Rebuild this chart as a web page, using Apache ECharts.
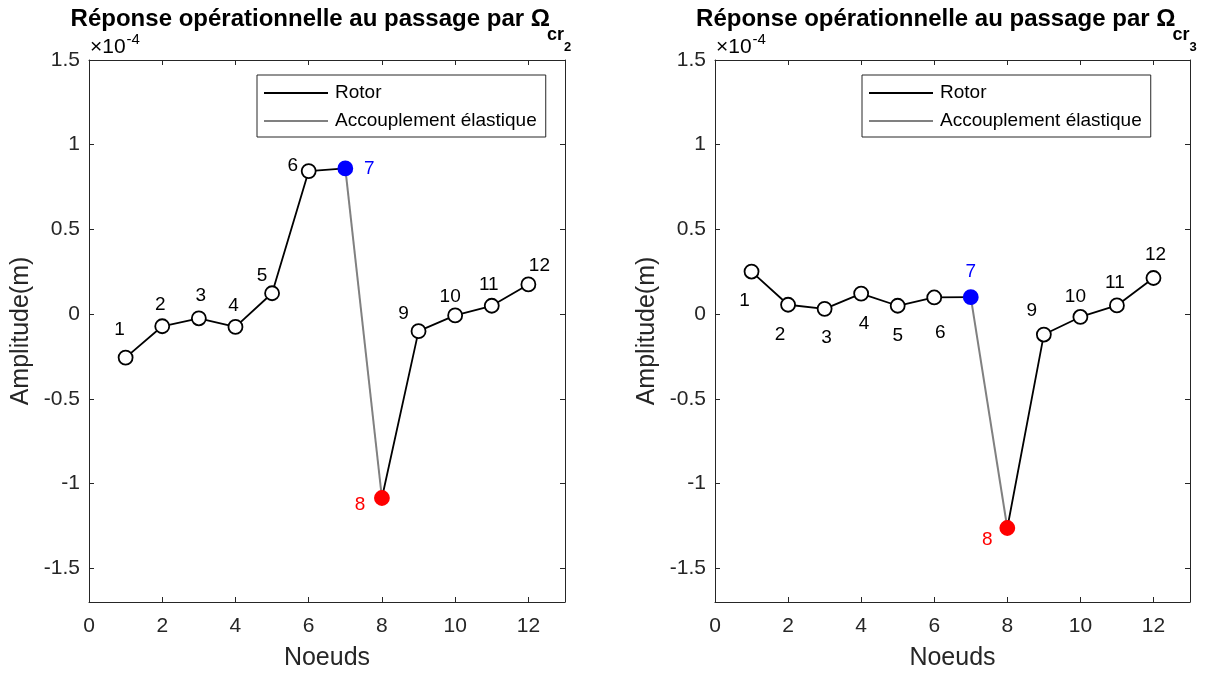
<!DOCTYPE html>
<html>
<head>
<meta charset="utf-8">
<script src="https://cdn.jsdelivr.net/npm/echarts@6/dist/echarts.min.js"></script>
<style>
html,body{margin:0;padding:0;background:#fff;}
#chart{width:1211px;height:676px;}
</style>
</head>
<body>
<div id="chart"></div>
<script>
// ---- data (amplitudes in units of 1e-4 m) ----
var nodes = [1, 2, 3, 4, 5, 6, 7, 8, 9, 10, 11, 12];
var ampCr2 = [-0.257, -0.072, -0.025, -0.076, 0.123, 0.844, 0.86, -1.086, -0.101, -0.008, 0.049, 0.175];
var ampCr3 = [0.251, 0.055, 0.031, 0.121, 0.049, 0.098, 0.10, -1.263, -0.121, -0.017, 0.051, 0.213];
var nodeLabels = ['1', '2', '3', '4', '5', '6', '7', '8', '9', '10', '11', '12'];
var couplingNodes = [7, 8];
var seriesNames = ['Rotor', 'Accouplement élastique'];
var titleMain = 'Réponse opérationnelle au passage par Ω';
var titleSub = 'cr';
var titleSubSubs = ['2', '3'];
var xTitle = 'Noeuds';
var yTitle = 'Amplitude(m)';

// ---- styling (positions of node labels relative to their markers, px) ----
var labelOffsets = [
  [[-6,-28],[-2,-21],[2,-23],[-2,-21],[-10,-17],[-16,-5],[24,0],[-22,7],[-15,-17],[-5,-19],[-3,-21],[11,-19]],
  [[-7,29],[-8,30],[2,29],[3,30],[0,30],[6,35],[0,-25],[-20,12],[-12,-24],[-5,-20],[-2,-23],[2,-23]]
];
var FONT = '"Liberation Sans", Arial, Helvetica, sans-serif';
var AX = '#262626';
var grids = [
  {left: 89, top: 60, width: 476, height: 546},
  {left: 715, top: 60, width: 475, height: 546}
];

var chart = echarts.init(document.getElementById('chart'), null, {renderer: 'canvas'});

var ctx = document.createElement('canvas').getContext('2d');
function tw(text, font) { ctx.font = font; return ctx.measureText(text).width; }

var xAxes = [], yAxes = [], series = [], legends = [], graphics = [];

function pointItem(chartIdx, i, amps) {
  var n = nodes[i];
  var item = {
    value: [n, amps[i]],
    label: {
      show: true, position: 'inside',
      offset: labelOffsets[chartIdx][i],
      formatter: nodeLabels[i],
      fontSize: 19, fontFamily: FONT, color: '#000'
    }
  };
  if (n === couplingNodes[0]) {
    item.itemStyle = {color: '#0000ff', borderColor: '#0000ff'};
    item.label.color = '#0000ff';
  } else if (n === couplingNodes[1]) {
    item.itemStyle = {color: '#ff0000', borderColor: '#ff0000'};
    item.label.color = '#ff0000';
  }
  return item;
}

[ampCr2, ampCr3].forEach(function (amps, c) {
  var g = grids[c];
  var common = {
    gridIndex: c,
    axisLine: {show: true, onZero: false, lineStyle: {color: AX, width: 1}},
    axisTick: {show: true, inside: true, length: 5, lineStyle: {color: AX, width: 1}},
    splitLine: {show: false}
  };
  xAxes.push(Object.assign({}, common, {
    type: 'value', position: 'bottom', min: 0, max: 13, interval: 2,
    axisLabel: {show: true, showMaxLabel: false, fontSize: 21, fontFamily: FONT, color: AX, margin: 14},
    name: xTitle, nameLocation: 'middle', nameGap: 44,
    nameTextStyle: {fontSize: 25, fontFamily: FONT, color: AX}
  }));
  xAxes.push(Object.assign({}, common, {
    type: 'value', position: 'top', min: 0, max: 13, interval: 2,
    axisLabel: {show: false}
  }));
  yAxes.push(Object.assign({}, common, {
    type: 'value', position: 'left', min: -1.7, max: 1.5,
    splitNumber: 6, minInterval: 0.5, maxInterval: 0.5,
    axisLabel: {show: true, showMinLabel: false, fontSize: 21, fontFamily: FONT, color: AX, margin: 9},
    name: yTitle, nameLocation: 'middle', nameGap: 55,
    nameTextStyle: {fontSize: 25, fontFamily: FONT, color: AX}
  }));
  yAxes.push(Object.assign({}, common, {
    type: 'value', position: 'right', min: -1.7, max: 1.5,
    splitNumber: 6, minInterval: 0.5, maxInterval: 0.5,
    axisLabel: {show: false}
  }));

  var xi = c * 2, yi = c * 2;
  var i7 = nodes.indexOf(couplingNodes[0]);
  var i8 = nodes.indexOf(couplingNodes[1]);

  // coupling (gray) first so markers lie on top
  series.push({
    type: 'line', name: seriesNames[1], xAxisIndex: xi, yAxisIndex: yi,
    data: [[nodes[i7], amps[i7]], [nodes[i8], amps[i8]]],
    symbol: 'none', lineStyle: {color: '#808080', width: 2},
    itemStyle: {color: '#808080'}, z: 2, animation: false, silent: true
  });
  var partA = [], partB = [];
  for (var i = 0; i < nodes.length; i++) {
    if (i <= i7) partA.push(pointItem(c, i, amps));
    if (i >= i8) partB.push(pointItem(c, i, amps));
  }
  [partA, partB].forEach(function (d) {
    series.push({
      type: 'line', name: seriesNames[0], xAxisIndex: xi, yAxisIndex: yi,
      data: d, symbol: 'circle', symbolSize: 14, showAllSymbol: true,
      lineStyle: {color: '#000', width: 1.8},
      itemStyle: {color: '#fff', borderColor: '#000', borderWidth: 1.8},
      z: 3, animation: false, silent: true
    });
  });

  legends.push({
    left: c === 0 ? 257 : 862, top: 75,
    orient: 'vertical', selectedMode: false,
    backgroundColor: '#fff', borderColor: AX, borderWidth: 1, borderRadius: 0,
    padding: [8, 9, 6, 7], itemGap: 8,
    itemWidth: 64, itemHeight: 2, icon: 'rect',
    textStyle: {fontSize: 19, fontFamily: FONT, color: '#000', lineHeight: 20, padding: [0, 0, 0, 2]},
    data: [
      {name: seriesNames[0], icon: 'rect', itemStyle: {color: '#000', borderWidth: 0}},
      {name: seriesNames[1], icon: 'rect', itemStyle: {color: '#808080', borderWidth: 0}}
    ]
  });

  // title: main text right-aligned at the Ω end, subscripts follow it
  var cx = g.left + g.width / 2;
  var xEnd = cx + 223;
  var fSub = 'bold 18px ' + FONT;
  var wCr = tw(titleSub, fSub);
  graphics.push({type: 'text', x: xEnd, y: 19.5, silent: true,
    style: {text: titleMain, font: 'bold 24px ' + FONT, fill: '#000', align: 'right', verticalAlign: 'middle'}});
  graphics.push({type: 'text', x: xEnd - 3, y: 35, silent: true,
    style: {text: titleSub, font: fSub, fill: '#000', align: 'left', verticalAlign: 'middle'}});
  graphics.push({type: 'text', x: xEnd - 3 + wCr, y: 47.5, silent: true,
    style: {text: titleSubSubs[c], font: 'bold 13px ' + FONT, fill: '#000', align: 'left', verticalAlign: 'middle'}});
  // exponent
  graphics.push({
    type: 'text', x: g.left + 1, y: 32, silent: true,
    style: {
      text: '{a|×10}{b|-4}', align: 'left', verticalAlign: 'top',
      rich: {
        a: {fontFamily: FONT, fontSize: 21, lineHeight: 22, verticalAlign: 'top', padding: [5, 0, 0, 0], color: AX},
        b: {fontFamily: FONT, fontSize: 15, lineHeight: 16, verticalAlign: 'top', padding: [0, 0, 0, 1], color: AX}
      }
    }
  });
});

chart.setOption({
  animation: false,
  grid: grids.map(function (g) { return Object.assign({containLabel: false}, g); }),
  xAxis: xAxes,
  yAxis: yAxes,
  legend: legends,
  series: series,
  graphic: graphics
});
</script>
</body>
</html>
